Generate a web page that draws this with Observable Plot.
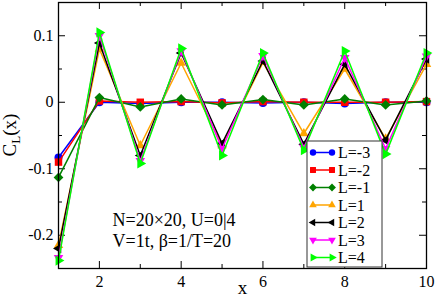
<!DOCTYPE html>
<html>
<head>
<meta charset="utf-8">
<script src="https://cdn.jsdelivr.net/npm/d3@7"></script>
<script src="https://cdn.jsdelivr.net/npm/@observablehq/plot@0.6"></script>
<style>
  html, body { margin: 0; padding: 0; background: #fff; }
  #chart { position: relative; width: 436px; height: 300px; }
</style>
</head>
<body>
<div id="chart"></div>
<script>
const xValues = [1, 2, 3, 4, 5, 6, 7, 8, 9, 10];
const seriesNames = ["L=-3", "L=-2", "L=-1", "L=1", "L=2", "L=3", "L=4"];
const seriesColors = ["#0000ff", "#ff0000", "#008000", "#ffa500", "#000000", "#ff00ff", "#00ff00"];
const valuesLm3 = [-0.083, 0.000, -0.002, 0.000, 0.000, -0.001, 0.000, -0.002, 0.000, 0.000];
const valuesLm2 = [-0.090, 0.002, 0.000, 0.001, -0.001, 0.001, 0.000, 0.000, 0.000, 0.001];
const valuesLm1 = [-0.113, 0.007, -0.007, 0.005, -0.004, 0.004, -0.004, 0.005, -0.004, 0.002];
const valuesL1 = [-0.215, 0.080, -0.065, 0.059, -0.065, 0.060, -0.047, 0.050, -0.055, 0.057];
const valuesL2 = [-0.220, 0.089, -0.080, 0.074, -0.062, 0.062, -0.063, 0.057, -0.057, 0.065];
const valuesL3 = [-0.234, 0.100, -0.088, 0.077, -0.070, 0.070, -0.068, 0.067, -0.070, 0.069];
const valuesL4 = [-0.238, 0.105, -0.092, 0.081, -0.080, 0.074, -0.072, 0.077, -0.078, 0.074];
const seriesValues = [valuesLm3, valuesLm2, valuesLm1, valuesL1, valuesL2, valuesL3, valuesL4];
const yMajorTicks = [-0.2, -0.1, 0, 0.1];
const yMinorTicks = [-0.15, -0.05, 0.05];
const xMajorTicks = [2, 4, 6, 8, 10];
const xMinorTicks = [3, 5, 7, 9];
const annotationLines = ["N=20×20, U=0|4", "V=1t, β=1/T=20"];

// custom triangle symbols (pointing at angleDeg)
function triangle(angleDeg) {
  return {
    draw(ctx, size) {
      const R = Math.sqrt(size) * 0.62;
      for (let i = 0; i < 3; i++) {
        const a = (angleDeg + i * 120) * Math.PI / 180;
        const px = R * Math.cos(a), py = R * Math.sin(a);
        if (i === 0) ctx.moveTo(px, py); else ctx.lineTo(px, py);
      }
      ctx.closePath();
    }
  };
}
const seriesSymbols = ["circle", "square", "diamond2", triangle(-90), triangle(180), triangle(90), triangle(0)];
const seriesR = [4, 4.2, 4.4, 5, 5, 5, 5.4];

const rows = [];
seriesNames.forEach((name, i) => {
  xValues.forEach((x, j) => rows.push({series: name, idx: i, x, y: seriesValues[i][j]}));
});

const W = 436, H = 300, mL = 58, mR = 10, mT = 2, mB = 32;
const fw = W - mL - mR, fh = H - mT - mB;
const font = "'Liberation Serif', 'Times New Roman', serif";

const marks = [];
// ticks (inward) on all four sides
marks.push(Plot.ruleY(yMajorTicks, {stroke: "black", strokeWidth: 1, insetRight: fw - 7}));
marks.push(Plot.ruleY(yMajorTicks, {stroke: "black", strokeWidth: 1, insetLeft: fw - 7}));
marks.push(Plot.ruleY(yMinorTicks, {stroke: "black", strokeWidth: 1, insetRight: fw - 4}));
marks.push(Plot.ruleY(yMinorTicks, {stroke: "black", strokeWidth: 1, insetLeft: fw - 4}));
marks.push(Plot.ruleX(xMajorTicks, {stroke: "black", strokeWidth: 1, insetBottom: fh - 7}));
marks.push(Plot.ruleX(xMajorTicks, {stroke: "black", strokeWidth: 1, insetTop: fh - 7}));
marks.push(Plot.ruleX(xMinorTicks, {stroke: "black", strokeWidth: 1, insetBottom: fh - 4}));
marks.push(Plot.ruleX(xMinorTicks, {stroke: "black", strokeWidth: 1, insetTop: fh - 4}));

seriesNames.forEach((name, i) => {
  const d = rows.filter(r => r.idx === i);
  marks.push(Plot.line(d, {x: "x", y: "y", stroke: seriesColors[i], strokeWidth: 1.5}));
  marks.push(Plot.dot(d, {x: "x", y: "y", fill: seriesColors[i], stroke: "none", symbol: seriesSymbols[i], r: seriesR[i]}));
});

marks.push(Plot.frame({stroke: "black", strokeWidth: 1.3}));
marks.push(Plot.axisY({ticks: yMajorTicks, tickSize: 0, tickPadding: 5, fontSize: 16, label: null,
  tickFormat: d => d === 0 ? "0" : String(d)}));
marks.push(Plot.axisX({ticks: xMajorTicks, tickSize: 0, tickPadding: 7, fontSize: 16, label: null,
  tickFormat: d => String(d)}));
marks.push(Plot.text(["x"], {frameAnchor: "bottom", dy: 25, fontSize: 19, fill: "black"}));
marks.push(Plot.text(annotationLines, {text: d => d, frameAnchor: "top-left", textAnchor: "start",
  fontSize: 18, fill: "black"}));

const plot = Plot.plot({
  width: W, height: H,
  marginLeft: mL, marginRight: mR, marginTop: mT, marginBottom: mB,
  x: {domain: [1, 10]},
  y: {domain: [-0.25, 0.15]},
  style: {fontFamily: font, background: "white", color: "black"},
  marks
});

const svg = d3.select(plot);
// position annotation lines (line spacing)
svg.selectAll("text").filter(function() { return annotationLines.includes(this.textContent); })
  .each(function() {
    const i = annotationLines.indexOf(this.textContent);
    d3.select(this).attr("transform", `translate(${mL + 54},${mT + 205 + i * 21})`).attr("dy", "0.32em");
  });

// y-axis title with subscript
const yt = svg.append("text")
  .attr("transform", `translate(16,${mT + fh / 2}) rotate(-90)`)
  .attr("text-anchor", "middle")
  .attr("font-family", font)
  .attr("font-size", 19)
  .attr("fill", "black");
yt.append("tspan").text("C");
yt.append("tspan").attr("font-size", 13).attr("dy", 4).text("L");
yt.append("tspan").attr("dy", -4).text("(x)");

// legend
const lg = svg.append("g").attr("transform", `translate(307,141)`);
lg.append("rect").attr("width", 75).attr("height", 126).attr("fill", "white").attr("stroke", "#333").attr("stroke-width", 1);
seriesNames.forEach((name, i) => {
  const cy = 11.5 + i * 17.5;
  const row = lg.append("g").attr("transform", `translate(0,${cy})`);
  row.append("line").attr("x1", 6).attr("x2", 25).attr("y1", 0).attr("y2", 0)
    .attr("stroke", seriesColors[i]).attr("stroke-width", 1.5);
  const sym = typeof seriesSymbols[i] === "string"
    ? ({circle: d3.symbolCircle, square: d3.symbolSquare, diamond2: d3.symbolDiamond2})[seriesSymbols[i]]
    : seriesSymbols[i];
  const r = seriesR[i] * 0.8;
  const p = d3.symbol(sym, Math.PI * r * r)();
  [6, 25].forEach(cx => row.append("path").attr("d", p).attr("transform", `translate(${cx},0)`).attr("fill", seriesColors[i]));
  row.append("text").attr("x", 31).attr("y", 0).attr("dy", "0.35em")
    .attr("text-anchor", "start")
    .attr("font-family", font).attr("font-size", 16).attr("fill", "black").text(name);
});

document.getElementById("chart").appendChild(plot);
</script>
</body>
</html>
